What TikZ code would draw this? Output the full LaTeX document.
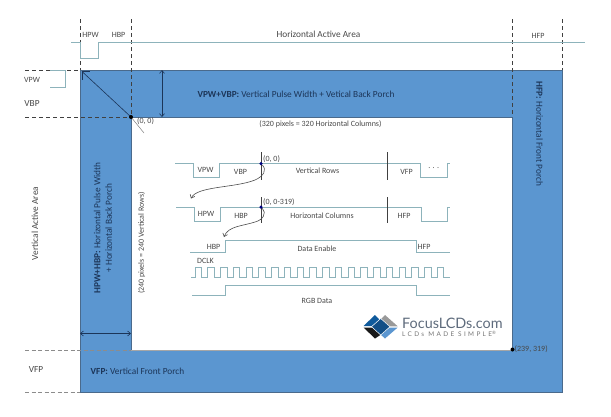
\documentclass[tikz,border=0pt]{standalone}
\usepackage{fontspec}
\setmainfont{Carlito}
\newfontfamily\logofont{Lato}
\usetikzlibrary{arrows.meta}
\definecolor{panel}{HTML}{5B96D0}
\definecolor{panelline}{HTML}{4A6A8C}
\definecolor{wave}{HTML}{8DB3BB}
\definecolor{ink}{HTML}{484848}
\definecolor{navy}{HTML}{1C3558}
\definecolor{logoblue}{HTML}{0F5A9C}
\definecolor{logomid}{HTML}{124E86}
\definecolor{logotext}{HTML}{5E6B7C}
\tikzset{
  lbl/.style={inner sep=0pt,text=ink,font=\fontsize{8}{9}\selectfont},
  biglbl/.style={inner sep=0pt,text=ink,font=\fontsize{9.3}{10.5}\selectfont},
  panellbl/.style={inner sep=0pt,text=navy,font=\fontsize{9.3}{11.5}\selectfont},
  waveline/.style={draw=wave,line width=0.8pt},
  guide/.style={draw=black!75,line width=0.6pt,dash pattern=on 4pt off 3pt},
  faintguide/.style={draw=black!45,line width=0.7pt,dash pattern=on 4pt off 2.5pt},
  marker/.style={draw=black!75,line width=0.7pt},
  dim/.style={draw=navy,line width=0.6pt,{Straight Barb[length=3pt,width=5pt]}-{Straight Barb[length=3pt,width=5pt]}},
  jump/.style={draw=black!70,line width=0.6pt,-{Straight Barb[length=3pt,width=5pt]}},
  dotmark/.style={circle,fill=black,inner sep=0pt,minimum size=4pt},
  bluedot/.style={circle,fill=blue!50!black,inner sep=0pt,minimum size=3.5pt}
}
\begin{document}
\begin{tikzpicture}[x=1pt,y=-1pt]
\useasboundingbox (0,0) rectangle (611,416);
% panel
\fill[panel,even odd rule] (80,70) rectangle (562.5,392) (131,117) rectangle (512.5,350);
\draw[panelline,line width=0.8pt] (80,392) -- (80,70) -- (562.5,70) -- (562.5,392) -- cycle;
\draw[panelline,line width=0.8pt] (131,350) -- (131,117) -- (512.5,117) -- (512.5,350);
\draw[black!35,line width=0.8pt] (131,350) -- (512.5,350);
% guides
\draw[guide] (80,19) -- (80,70);
\draw[guide] (131,19) -- (131,117);
\draw[guide] (512.5,19) -- (512.5,117);
\draw[guide] (562.5,19) -- (562.5,70);
\draw[guide] (25,70) -- (80,70);
\draw[guide] (25,117) -- (131,117);
\draw[faintguide] (25,350) -- (131,350);
\draw[faintguide] (25,392) -- (80,392);
% top and left timing lines
\draw[waveline] (71,42.5) -- (80,42.5) -- (80,58.5) -- (98,58.5) -- (98,42.5) -- (585,42.5);
\draw[waveline] (50,70) -- (65.5,70) -- (65.5,87.5) -- (50,87.5);
% dimension marks
\coordinate (vtop) at (162,70);
\coordinate (vbot) at (162,117);
\coordinate (hleft) at (80,333.5);
\coordinate (hright) at (131,333.5);
\coordinate (corner) at (82,71.5);
\coordinate (tail) at (144,133);
\draw[dim] (vtop) -- (vbot);
\draw[dim] (hleft) -- (hright);
\draw[navy,line width=0.6pt] (corner) -- (131,117);
\draw[navy,line width=0.6pt] (corner) -- ++(8,0) (corner) -- ++(0,8);
\draw[black!50,line width=0.5pt] (131,117) -- (tail);
\node[dotmark] (origin) at (131,117) {};
\node[dotmark] (endpt) at (512.5,349.5) {};
% top labels
\node[lbl] (thpw) at (90.5,35) {HPW};
\node[lbl] (thbp) at (118.5,35) {HBP};
\node[biglbl] (thaa) at (318.5,34.5) {Horizontal Active Area};
\node[lbl] (thfp) at (538,36) {HFP};
\node[lbl] (lvpw) at (32,79.5) {VPW};
\node[biglbl] (lvbp) at (32,104) {VBP};
\node[biglbl,rotate=90] (lvaa) at (35,223.5) {Vertical Active Area};
\node[biglbl] (lvfp) at (36,370) {VFP};
% panel labels
\node[panellbl] (tvv) at (296,94) {\textbf{VPW+VBP:} Vertical Pulse Width + Vetical Back Porch};
\node[panellbl,rotate=90,align=center] (thh) at (103,228) {\textbf{HPW+HBP:} Horizontal Pulse Width\\+ Horizontal Back Porch};
\node[panellbl,rotate=-90] (thf) at (539.5,134) {\textbf{HFP:} Horizontal Front Porch};
\node[panellbl] (tvf) at (137.5,371) {\textbf{VFP:} Vertical Front Porch};
\node[lbl,anchor=west] (t00) at (137,121) {(0, 0)};
\node[lbl] (t320) at (320.5,124.5) {(320 pixels = 320 Horizontal Columns)};
\node[lbl,rotate=90] (t240) at (141.5,243) {(240 pixels = 240 Vertical Rows)};
\node[lbl,anchor=west] (t239) at (514.5,349) {(239, 319)};
% centre timing diagram
\draw[waveline] (175,163.5) -- (193,163.5) -- (193,177) -- (219,177) -- (219,163.5) -- (420,163.5) -- (420,177) -- (447,177) -- (447,163.5) -- (450,163.5);
\draw[waveline] (176,207) -- (194,207) -- (194,221) -- (220,221) -- (220,207) -- (421,207) -- (421,221) -- (447,221) -- (447,207) -- (450,207);
\draw[waveline] (190,252) -- (225,252) -- (225,240.7) -- (416,240.7) -- (416,252) -- (450,252);
\draw[waveline] (192,295) -- (225,295) -- (225,285) -- (416,285) -- (416,295) -- (450,295);
\draw[waveline] (191,277) -- (195,277)
  \foreach \k in {0,...,19} { -- ({195+12.75*\k},267.7) -- ({201.4+12.75*\k},267.7) -- ({201.4+12.75*\k},277) -- ({207.75+12.75*\k},277) };
\draw[marker] (261,152) -- (261,180);
\draw[marker] (387,152) -- (387,180);
\draw[marker] (261,197) -- (261,223);
\draw[marker] (387,197) -- (387,223);
\node[bluedot] (d1) at (261,163.5) {};
\node[bluedot] (d2) at (261,207) {};
\coordinate (j1) at (191,198.5);
\coordinate (j2) at (224,237);
\draw[jump] (d1) .. controls (267,170) and (264,176) .. (255,180) .. controls (235,188) and (197,186) .. (j1);
\draw[jump] (d2) .. controls (267,213) and (263,220) .. (255,222) .. controls (243,226) and (228,226) .. (j2);
\node[lbl,anchor=west] (m00) at (263,159) {(0, 0)};
\node[lbl] (mvpw) at (205.5,170) {VPW};
\node[lbl] (mvbp) at (240.5,172) {VBP};
\node[lbl] (mrows) at (317.5,171) {Vertical Rows};
\node[lbl] (mvfp) at (406.5,172) {VFP};
\node[lbl] (mdots) at (433.7,168) {. . .};
\node[lbl,anchor=west] (m0319) at (263,202) {(0, 0-319)};
\node[lbl] (mhpw) at (206,214) {HPW};
\node[lbl] (mhbp) at (241,216) {HBP};
\node[lbl] (mcols) at (322,216) {Horizontal Columns};
\node[lbl] (mhfp) at (404,215.5) {HFP};
\node[lbl] (dhbp) at (213.5,247) {HBP};
\node[lbl] (dde) at (317,249) {Data Enable};
\node[lbl] (dhfp) at (424,247) {HFP};
\node[lbl] (dclk) at (205.5,261) {DCLK};
\node[lbl] (drgb) at (317,301) {RGB Data};
% logo
\fill[logoblue] (363.5,326) -- (375,315) -- (380,320) -- (372,326) -- cycle;
\fill[black!90] (363.5,327.5) -- (372,327.5) -- (381,334.5) -- (375,338.5) -- cycle;
\fill[black!40] (385,315) -- (397.7,326.3) -- (390,326.3) -- (380.5,319.5) -- cycle;
\fill[panel] (397.7,327.5) -- (385,338.5) -- (380,334) -- (390,327.5) -- cycle;
\filldraw[fill=logomid,draw=white,line width=0.5pt] (380.7,318.5) -- (390,326.7) -- (380.7,335) -- (371.5,326.7) -- cycle;
\node[inner sep=0pt,anchor=west,text=logotext,font=\logofont\fontsize{14.4}{15}\selectfont] (logo) at (402,323.5) {FocusLCDs.com};
\node[inner sep=0pt,anchor=west,text=black!55,font={\logofont\addfontfeatures{LetterSpace=37}\fontsize{6.4}{7}\selectfont}] (slogan) at (402,333.7) {LCDs MADE SIMPLE\textsuperscript{\addfontfeatures{LetterSpace=0}®}};
\end{tikzpicture}
\end{document}
